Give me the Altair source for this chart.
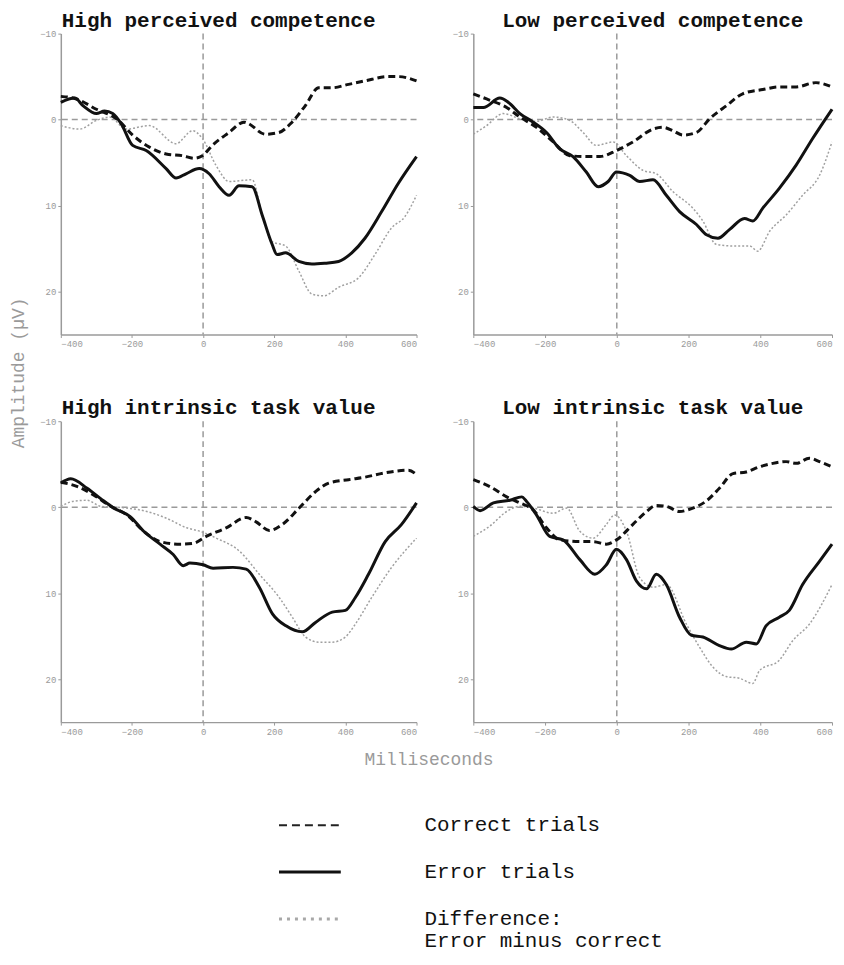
import altair as alt
import pandas as pd

# ---------------- data ----------------
PANELS = ["High perceived competence", "Low perceived competence",
          "High intrinsic task value", "Low intrinsic task value"]
SERIES = ["Correct trials", "Error trials", "Difference"]
LEGEND_LABELS = ["Correct trials", "Error trials", "Difference:\nError minus correct"]
X_TICKS = [-400, -200, 0, 200, 400, 600]
Y_TICKS = [-10, 0, 10, 20]

# High perceived competence
hpc_correct_ms = [-400, -356, -300, -240, -198, -151, -104, -58, -25, -2, 26, 73, 115, 124, 175, 213, 250, 287, 325, 362, 409, 455, 521, 549, 600]
hpc_correct_uv = [-2.7, -2.4, -1.2, 0.0, 1.8, 3.2, 4.0, 4.2, 4.5, 4.2, 3.0, 1.5, 0.3, 0.4, 1.7, 1.5, 0.3, -1.6, -3.7, -3.7, -4.1, -4.5, -5.0, -5.0, -4.5]
hpc_error_ms = [-400, -361, -337, -300, -277, -254, -230, -198, -160, -104, -76, -48, -11, 17, 45, 73, 101, 138, 166, 194, 208, 232, 269, 306, 343, 381, 418, 455, 502, 549, 600]
hpc_error_uv = [-2.0, -2.5, -1.6, -0.7, -1.0, -0.7, 0.5, 3.0, 3.6, 5.7, 6.8, 6.3, 5.7, 6.3, 7.8, 8.8, 7.7, 7.8, 11.1, 14.5, 15.7, 15.5, 16.5, 16.8, 16.7, 16.5, 15.5, 13.8, 10.7, 7.4, 4.3]
hpc_diff_ms = [-400, -347, -300, -263, -216, -151, -76, -30, -2, 36, 73, 138, 166, 194, 232, 269, 306, 339, 381, 437, 483, 530, 567, 600]
hpc_diff_uv = [0.7, 1.1, 0.1, -0.3, 1.1, 0.7, 2.8, 1.3, 2.2, 5.3, 7.2, 7.0, 11.1, 14.2, 14.7, 17.6, 20.3, 20.5, 19.5, 18.4, 15.7, 12.6, 11.3, 8.8]

# Low perceived competence
lpc_correct_ms = [-400, -363, -307, -270, -224, -177, -131, -85, -47, -1, 45, 101, 129, 157, 184, 222, 259, 305, 351, 407, 453, 500, 555, 600]
lpc_correct_uv = [-3.0, -2.4, -1.4, -0.3, 0.9, 2.6, 4.2, 4.3, 4.3, 3.6, 2.6, 1.1, 0.9, 1.3, 1.8, 1.5, -0.1, -1.6, -3.0, -3.5, -3.8, -3.8, -4.3, -3.8]
lpc_error_ms = [-400, -372, -326, -302, -270, -233, -196, -159, -122, -85, -52, -24, -1, 36, 64, 101, 138, 175, 222, 250, 282, 314, 356, 379, 407, 453, 500, 546, 600]
lpc_error_uv = [-1.4, -1.4, -2.5, -2.0, -0.7, 0.3, 1.5, 3.4, 4.3, 6.1, 7.8, 7.2, 6.1, 6.5, 7.2, 7.0, 8.8, 10.7, 12.2, 13.4, 13.8, 12.8, 11.5, 11.8, 10.3, 8.0, 5.3, 2.2, -1.2]
lpc_diff_ms = [-400, -363, -317, -270, -224, -177, -131, -94, -57, -10, 27, 73, 110, 157, 212, 240, 277, 324, 370, 393, 426, 472, 518, 565, 600]
lpc_diff_uv = [1.7, 0.7, -0.7, -0.1, 0.2, -0.3, 0.1, 1.5, 3.0, 2.6, 4.2, 5.9, 6.3, 8.4, 10.3, 11.8, 14.5, 14.7, 14.7, 15.3, 13.0, 11.1, 8.8, 6.5, 2.6]

# High intrinsic task value
hitv_correct_ms = [-400, -353, -307, -260, -214, -167, -121, -65, -28, 9, 65, 121, 149, 186, 223, 270, 316, 353, 409, 456, 512, 577, 600]
hitv_correct_uv = [-2.9, -2.4, -1.4, -0.1, 0.9, 2.8, 4.0, 4.3, 4.2, 3.4, 2.4, 1.2, 1.7, 2.7, 2.0, 0.1, -1.8, -2.8, -3.2, -3.5, -4.0, -4.3, -3.8]
hitv_error_ms = [-400, -372, -326, -288, -251, -205, -167, -121, -84, -56, -37, 0, 28, 84, 121, 158, 195, 233, 279, 316, 363, 400, 428, 465, 512, 558, 600]
hitv_error_uv = [-2.8, -3.3, -2.2, -1.0, 0.1, 1.1, 2.8, 4.3, 5.5, 6.8, 6.5, 6.7, 7.1, 7.0, 7.2, 9.3, 12.4, 13.8, 14.5, 13.4, 12.2, 12.0, 10.5, 7.8, 4.0, 2.0, -0.5]
hitv_diff_ms = [-400, -363, -326, -288, -214, -158, -102, -46, -9, 37, 102, 158, 214, 251, 288, 326, 363, 400, 428, 474, 530, 600]
hitv_diff_uv = [-0.1, -0.7, -0.8, -0.1, 0.1, 0.5, 1.3, 2.4, 2.8, 3.6, 5.1, 7.8, 10.5, 12.8, 15.1, 15.7, 15.7, 15.1, 13.6, 10.5, 7.0, 3.6]

# Low intrinsic task value
litv_correct_ms = [-400, -354, -307, -270, -233, -196, -159, -103, -66, -29, -1, 45, 83, 110, 138, 175, 212, 249, 286, 324, 361, 398, 435, 472, 500, 537, 565, 600]
litv_correct_uv = [-3.2, -2.4, -1.2, -0.5, 0.3, 2.4, 3.8, 4.0, 4.0, 4.3, 3.8, 2.0, 0.5, -0.2, -0.1, 0.5, 0.1, -0.7, -2.2, -3.9, -4.1, -4.7, -5.1, -5.3, -5.1, -5.7, -5.3, -4.7]
litv_error_ms = [-400, -381, -344, -298, -265, -252, -224, -187, -150, -103, -61, -29, -1, 27, 55, 83, 110, 138, 175, 208, 240, 286, 319, 361, 389, 416, 453, 481, 518, 565, 600]
litv_error_uv = [-0.1, 0.4, -0.5, -0.8, -1.2, -0.7, 0.9, 3.4, 3.8, 6.1, 7.8, 6.7, 4.9, 6.1, 8.6, 9.5, 7.8, 9.0, 12.8, 14.9, 15.1, 16.1, 16.5, 15.7, 15.9, 13.8, 12.8, 12.0, 9.0, 6.3, 4.3]
litv_diff_ms = [-400, -354, -307, -270, -233, -177, -140, -103, -66, -29, -6, 27, 64, 101, 138, 194, 231, 268, 305, 342, 379, 398, 453, 491, 537, 600]
litv_diff_uv = [3.4, 2.2, 0.5, -0.1, 0.1, 0.7, 0.1, 2.8, 3.6, 2.0, 0.9, 2.8, 8.2, 9.3, 9.0, 13.6, 16.3, 18.6, 19.7, 19.9, 20.5, 19.0, 17.8, 15.5, 13.6, 9.0]

SERIES_DATA = {
    PANELS[0]: [(hpc_correct_ms, hpc_correct_uv), (hpc_error_ms, hpc_error_uv), (hpc_diff_ms, hpc_diff_uv)],
    PANELS[1]: [(lpc_correct_ms, lpc_correct_uv), (lpc_error_ms, lpc_error_uv), (lpc_diff_ms, lpc_diff_uv)],
    PANELS[2]: [(hitv_correct_ms, hitv_correct_uv), (hitv_error_ms, hitv_error_uv), (hitv_diff_ms, hitv_diff_uv)],
    PANELS[3]: [(litv_correct_ms, litv_correct_uv), (litv_error_ms, litv_error_uv), (litv_diff_ms, litv_diff_uv)],
}

# ---------------- styles ----------------
MONO = "Liberation Mono"
GRAY = "#9a9a9a"
STYLE = {
    "Correct trials": dict(color="#111111", strokeWidth=3, strokeDash=[7, 4]),
    "Error trials": dict(color="#111111", strokeWidth=3),
    "Difference": dict(color="#a0a0a0", strokeWidth=1.5, strokeDash=[2, 2]),
}
DRAW_ORDER = ["Difference", "Correct trials", "Error trials"]

xscale = alt.Scale(domain=[-400, 600], nice=False, zero=False)
yscale = alt.Scale(domain=[-10, 25], reverse=True, nice=False, zero=False)
zero_df = pd.DataFrame({"v": [0]})


def panel(name, width, title_dx, xtitle=None, ytitle=None):
    xa = dict(values=X_TICKS, title=None)
    ya = dict(values=Y_TICKS, title=None)
    if xtitle:
        xa.update(title=xtitle, titleX=369, titleY=38, titleAlign="center",
                  titleBaseline="middle", titleAngle=0)
    if ytitle:
        ya.update(title=ytitle, titleX=-42, titleY=340, titleAlign="center",
                  titleBaseline="middle", titleAngle=270)
    X = lambda f: alt.X(f, scale=xscale, axis=alt.Axis(**xa))
    Y = lambda f: alt.Y(f, scale=yscale, axis=alt.Axis(**ya))

    hz = alt.Chart(zero_df).mark_rule(color=GRAY, strokeDash=[6, 4], strokeWidth=1.5).encode(y=Y("v:Q"))
    vt = alt.Chart(zero_df).mark_rule(color=GRAY, strokeDash=[6, 4], strokeWidth=1.5).encode(x=X("v:Q"))
    layers = [hz, vt]
    for s in DRAW_ORDER:
        ms, uv = SERIES_DATA[name][SERIES.index(s)]
        d = pd.DataFrame({"ms": ms, "uv": uv})
        layers.append(
            alt.Chart(d).mark_line(strokeJoin="round", interpolate="monotone", **STYLE[s]).encode(
                x=X("ms:Q"), y=Y("uv:Q"))
        )
    return alt.layer(*layers).properties(
        width=width, height=302,
        title=alt.TitleParams(name, anchor="start", dx=title_dx, dy=28, offset=10, frame="group",
                              font=MONO, fontSize=21, fontWeight="bold", color="#111111",
                              baseline="alphabetic"),
    )


p1 = panel(PANELS[0], 357, 1, ytitle="Amplitude (µV)")
p2 = panel(PANELS[1], 360, 29)
p3 = panel(PANELS[2], 357, 1, xtitle="Milliseconds")
p4 = panel(PANELS[3], 360, 29)

# ---------------- legend ----------------
leg_df = pd.DataFrame({"series": SERIES, "label": LEGEND_LABELS, "row": [0, 1, 2]})
ly = alt.Y("row:Q", scale=alt.Scale(domain=[-0.351, 2.415], reverse=True, nice=False, zero=False), axis=None)
LEG_STYLE = {
    "Correct trials": dict(color="#222222", strokeWidth=2, strokeDash=[8, 5]),
    "Error trials": dict(color="#111111", strokeWidth=3),
    "Difference": dict(color="#a8a8a8", strokeWidth=3, strokeDash=[3, 5]),
}
leg_layers = []
for s in SERIES:
    leg_layers.append(
        alt.Chart(leg_df[leg_df.series == s]).mark_rule(**LEG_STYLE[s]).encode(
            x=alt.value(219), x2=alt.value(281), y=ly)
    )
leg_layers.append(
    alt.Chart(leg_df).mark_text(align="left", baseline="top", dy=-11, lineBreak="\n",
                                lineHeight=22, font=MONO, fontSize=21, color="#111111").encode(
        x=alt.value(365), y=ly, text="label:N")
)
legend = alt.layer(*leg_layers).properties(width=357, height=130)

chart = alt.concat(
    p1, p2, p3, p4, legend,
    columns=2, spacing={"row": 87, "column": 57}, bounds="flush",
).configure_view(stroke=None).configure_axis(
    grid=False, domainColor=GRAY, domainWidth=1.5, tickColor=GRAY, tickSize=3,
    labelColor=GRAY, labelFont=MONO, labelFontSize=9, labelPadding=2,
    titleFont=MONO, titleFontSize=18, titleColor=GRAY, titleFontWeight="normal",
).properties(background="white", padding={"left": 2, "top": 0, "right": 2, "bottom": 2})

chart.save("out.html", embed_options={"renderer": "svg", "actions": False})
